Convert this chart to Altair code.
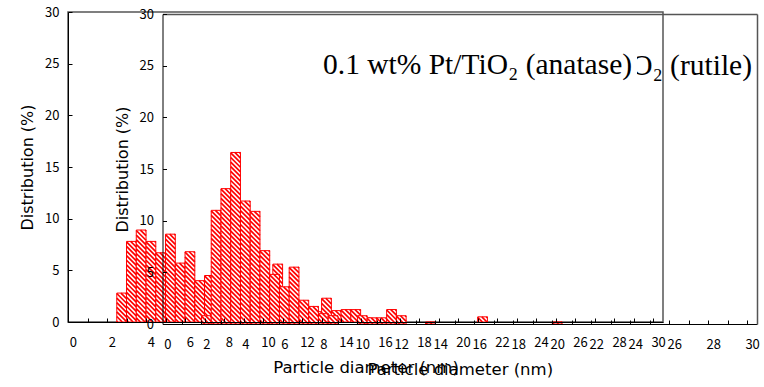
import altair as alt
import pandas as pd

# ---------------- data ----------------
anatase_d = [2.5, 3.0, 3.5, 4.0, 4.5, 5.0, 5.5, 6.0, 6.5, 7.0, 7.5, 8.0, 8.5, 9.0, 9.5,
             10.0, 10.5, 11.0, 11.5, 12.0, 12.5, 13.0, 13.5, 14.0, 14.5, 15.0, 21.0]
anatase_p = [2.8, 7.8, 8.9, 7.8, 6.7, 8.5, 5.7, 6.8, 4.0, 4.5, 4.0, 4.5, 4.0, 3.5, 3.0,
             3.0, 5.6, 2.0, 1.5, 1.2, 1.0, 2.3, 1.1, 1.2, 1.2, 0.4, 0.5]
rutile_d = [2.0, 2.5, 3.0, 3.5, 4.0, 4.5, 5.0, 5.5, 6.0, 6.5, 7.0, 7.5, 8.0, 8.5,
            10.0, 10.5, 11.0, 11.5, 12.0, 13.5, 20.0]
rutile_p = [0.8, 11.0, 13.1, 16.6, 11.9, 10.9, 7.1, 4.8, 3.6, 5.5, 2.3, 1.7, 1.0, 0.8,
            0.8, 0.6, 0.6, 1.4, 0.8, 0.2, 0.2]

x_labels = list(range(0, 31, 2))
x_ticks = [k + 0.75 for k in range(30)]
y_labels = list(range(0, 31, 5))
title_anatase = "0.1 wt% Pt/TiO₂ (anatase)"
title_rutile = "0.1 wt% Pt/TiO₂ (rutile)"
x_title = "Particle diameter (nm)"
y_title = "Distribution (%)"

# ---------------- layout / style ----------------
W, H = 595, 310
A_XR, A_YR = [0, 595], [310, 0]
R_XR, R_YR = [94.5, 689], [312, 2]
XDOM, YDOM = [-0.25, 30.25], [0, 30]
RED = "#ff0000"
FONT = "Noto Sans CJK JP"
TFONT = "DejaVu Sans"
FRAME = "#555555"


def bars_df(d, p):
    return pd.DataFrame({"x0": [v - 0.25 for v in d], "x1": [v + 0.25 for v in d],
                         "y0": [0.0] * len(d), "y1": p})


def stripes_df(d, p, xr, yr, period=4.6):
    ppx = (xr[1] - xr[0]) / (XDOM[1] - XDOM[0])
    ppy = (yr[0] - yr[1]) / (YDOM[1] - YDOM[0])
    w = 0.5 * ppx
    rows = []
    for v, val in zip(d, p):
        hh = val * ppy
        left = v - 0.25
        c = -w + 1.0
        while c < hh:
            xs_ = max(0.0, -c)
            xe_ = min(w, hh - c)
            if xe_ - xs_ > 0.4:
                rows.append({"x": left + xs_ / ppx, "x2": left + xe_ / ppx,
                             "y": val - (c + xs_) / ppy, "y2": val - (c + xe_) / ppy})
            c += period
    return pd.DataFrame(rows)


def X(xr, field, axis):
    return alt.X(field, scale=alt.Scale(domain=XDOM, range=xr, nice=False, zero=False), axis=axis)


def Y(yr, field, axis):
    return alt.Y(field, scale=alt.Scale(domain=YDOM, range=yr, nice=False, zero=False), axis=axis)


def label_axis_x(offset, tpad):
    return alt.Axis(values=x_labels, format="d", orient="bottom", offset=offset, tickSize=0,
                    labelPadding=14, labelFlush=False, labelOverlap=False, labelFont=FONT,
                    labelFontSize=13, labelColor="black", domainColor="black", domainWidth=1,
                    grid=False, title=x_title, titleFont=TFONT, titleFontSize=16.5,
                    titleFontWeight="normal", titleColor="black", titlePadding=tpad, zindex=1)


def label_axis_y(offset):
    return alt.Axis(values=y_labels, orient="left", offset=offset, tickSize=0, labelPadding=9,
                    labelFlush=False, labelOverlap=False, labelFont=FONT, labelFontSize=13,
                    labelColor="black", domainColor="black", domainWidth=1, grid=False,
                    title=y_title, titleFont=TFONT, titleFontSize=16, titleFontWeight="normal",
                    titleColor="black", titlePadding=9, zindex=1)


def tick_axis_x(offset):
    return alt.Axis(values=x_ticks, orient="top", offset=offset, tickSize=4, tickColor="black",
                    labels=False, domain=False, grid=False, title=None, zindex=1)


def tick_axis_y(offset):
    return alt.Axis(values=y_labels, orient="right", offset=offset, tickSize=4, tickColor="black",
                    labels=False, domain=False, grid=False, title=None, zindex=1)


a_df = bars_df(anatase_d, anatase_p)
r_df = bars_df(rutile_d, rutile_p)

a_bars = alt.Chart(a_df).mark_rect(fill="white", stroke=RED, strokeWidth=1).encode(
    x=X(A_XR, "x0:Q", label_axis_x(0, 10)), x2="x1:Q",
    y=Y(A_YR, "y0:Q", label_axis_y(0)), y2="y1:Q")
a_str = alt.Chart(stripes_df(anatase_d, anatase_p, A_XR, A_YR)).mark_rule(
    color=RED, strokeWidth=1.7).encode(
    x=X(A_XR, "x:Q", None), x2="x2:Q", y=Y(A_YR, "y:Q", None), y2="y2:Q")
a_tick = alt.Chart(a_df).mark_point(opacity=0).encode(
    x=X(A_XR, "x0:Q", tick_axis_x(-A_YR[0])), y=Y(A_YR, "y1:Q", tick_axis_y(-(W - A_XR[0]))))

r_bars = alt.Chart(r_df).mark_rect(fill="white", stroke=RED, strokeWidth=1).encode(
    x=X(R_XR, "x0:Q", label_axis_x(R_YR[0] - H, 10)), x2="x1:Q",
    y=Y(R_YR, "y0:Q", label_axis_y(-R_XR[0])), y2="y1:Q")
r_str = alt.Chart(stripes_df(rutile_d, rutile_p, R_XR, R_YR)).mark_rule(
    color=RED, strokeWidth=1.7).encode(
    x=X(R_XR, "x:Q", None), x2="x2:Q", y=Y(R_YR, "y:Q", None), y2="y2:Q")
r_tick = alt.Chart(r_df).mark_point(opacity=0).encode(
    x=X(R_XR, "x0:Q", tick_axis_x(-R_YR[0])), y=Y(R_YR, "y1:Q", tick_axis_y(-(W - R_XR[0]))))
r_frame = alt.Chart(r_df).mark_point(opacity=0).encode(
    x=X(R_XR, "x0:Q", alt.Axis(orient="top", offset=-R_YR[1], ticks=False, labels=False,
                                domainColor=FRAME, domainWidth=1.5, grid=False, title=None, zindex=1)),
    y=Y(R_YR, "y1:Q", alt.Axis(orient="right", offset=R_XR[1] - W, ticks=False, labels=False,
                                domainColor=FRAME, domainWidth=1.5, grid=False, title=None, zindex=1)))

t_rutile = alt.Chart(pd.DataFrame({"t": [title_rutile]})).mark_text(
    font="Liberation Serif", fontSize=29.5, align="right", baseline="alphabetic", color="black").encode(
    text="t:N", x=alt.value(684), y=alt.value(63))
t_box = alt.Chart(pd.DataFrame({"t": [title_anatase]})).mark_rect(fill="white").encode(
    x=alt.value(245), x2=alt.value(569), y=alt.value(32), y2=alt.value(76))
t_anatase = alt.Chart(pd.DataFrame({"t": [title_anatase]})).mark_text(
    font="Liberation Serif", fontSize=29.5, align="left", baseline="alphabetic", color="black").encode(
    text="t:N", x=alt.value(255), y=alt.value(62))

chart = alt.layer(
    a_bars, a_str, r_bars, r_str, a_tick, r_tick, r_frame, t_rutile, t_box, t_anatase
).resolve_scale(x="independent", y="independent").properties(
    width=W, height=H,
    autosize=alt.AutoSizeParams(type="none"),
    padding={"left": 68, "top": 12, "right": 101, "bottom": 65},
    background="white",
).configure_view(stroke=FRAME, strokeWidth=1.5)

chart.save("out.html", embed_options={"renderer": "svg", "actions": False})
